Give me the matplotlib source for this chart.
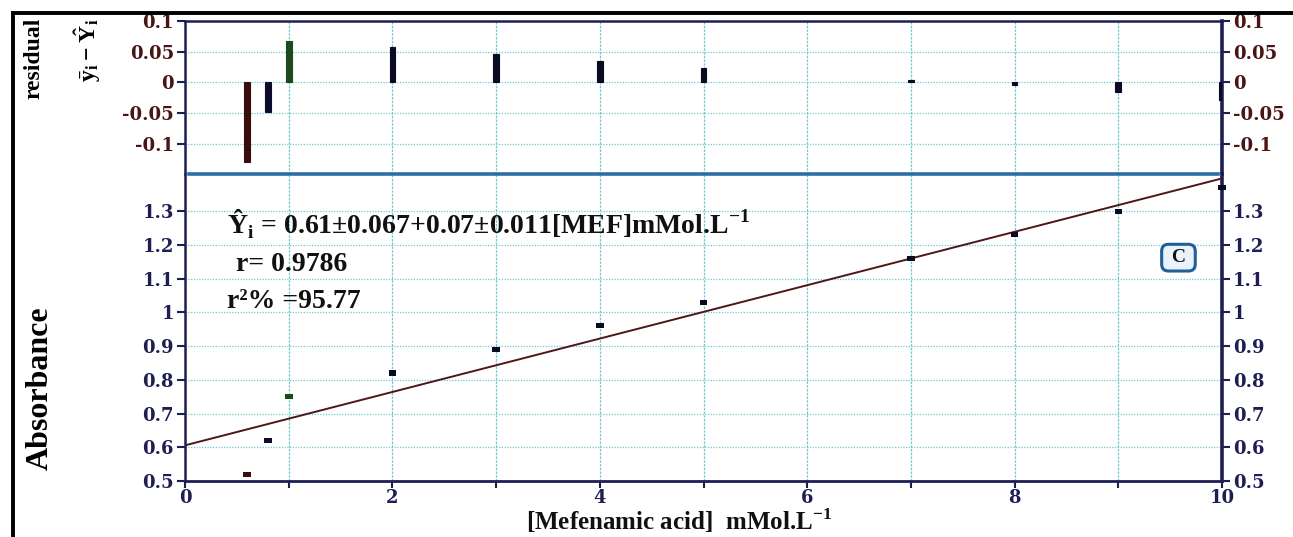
import matplotlib
matplotlib.use("Agg")
import matplotlib.pyplot as plt
import numpy as np
from matplotlib.lines import Line2D

plt.rcParams['axes.unicode_minus'] = False

# calibration data: [MEF] (mMol/L) vs absorbance
conc = np.array([0.6, 0.8, 1.0, 2.0, 3.0, 4.0, 5.0, 7.0, 8.0, 9.0, 10.0])
absorbance = np.array([0.52, 0.62, 0.75, 0.82, 0.89, 0.96, 1.03, 1.16, 1.23, 1.30, 1.37])
# residuals y_i - Y^_i
residual = np.array([-0.130, -0.048, 0.067, 0.057, 0.046, 0.035, 0.024, 0.004, -0.005, -0.016, -0.028])
point_colors = ['#3a0c0c', '#0c0c2e', '#1c4a1c'] + ['#0a0a22'] * 8

res_ticks = [-0.1, -0.05, 0, 0.05, 0.1]
res_labels = ['-0.1', '-0.05', '0', '0.05', '0.1']
abs_ticks = [0.5, 0.6, 0.7, 0.8, 0.9, 1.0, 1.1, 1.2, 1.3]
abs_labels = ['0.5', '0.6', '0.7', '0.8', '0.9', '1', '1.1', '1.2', '1.3']
x_major = [0, 2, 4, 6, 8, 10]
x_minor = [1, 3, 5, 7, 9]

eq_text = (r'Ŷ$_\mathregular{i}$ = 0.61±0.067+0.07±0.011[MEF]mMol.L$^\mathregular{-1}$')
r_text = 'r= 0.9786'
r2_text = 'r²% =95.77'

navy = '#1e1e55'
maroon = '#4a1414'
grid_c = '#6fcccc'
serif_b = dict(family='Liberation Serif', weight='bold')
tick_font = dict(family='DejaVu Serif', weight='bold', size=13)

# least squares line through the calibration points
slope, intercept = np.polyfit(conc, absorbance, 1)

fig = plt.figure(figsize=(12.93, 5.37), dpi=100)
ax_top = fig.add_axes([0.1431, 0.676, 0.802, 0.285])
ax_bot = fig.add_axes([0.1431, 0.1043, 0.802, 0.5717])

for ax in (ax_top, ax_bot):
    ax.set_xlim(0, 10)
    ax.set_xticks(x_major)
    ax.set_xticks(x_minor, minor=True)
    ax.grid(True, which='both', axis='x', color=grid_c, lw=0.9, ls=(0, (2, 1)))
    ax.grid(True, which='major', axis='y', color=grid_c, lw=0.9, ls=(0, (1, 1.2)))
    ax.set_axisbelow(True)
    for side in ('left', 'right'):
        ax.spines[side].set_color(navy)
    ax.spines['left'].set_linewidth(1.8)
    ax.spines['right'].set_linewidth(2.6)
    ax.tick_params(axis='y', direction='out', length=6, width=1.5, color=navy,
                   left=True, right=True, labelleft=True, labelright=True, pad=2)

# residual panel
ax_top.bar(conc, residual, width=0.055, color=point_colors,
           edgecolor=point_colors, lw=0.8, zorder=3)
ax_top.set_ylim(-0.149, 0.1)
ax_top.set_yticks(res_ticks)
ax_top.set_yticklabels(res_labels, **tick_font)
ax_top.tick_params(axis='y', labelcolor=maroon)
ax_top.spines['bottom'].set_visible(False)
ax_top.spines['top'].set_color(navy)
ax_top.spines['top'].set_linewidth(1.8)
ax_top.tick_params(axis='x', which='both', bottom=False, labelbottom=False)

# calibration panel
ax_bot.plot([0, 10], [intercept, intercept + slope * 10], color='#4e1616', lw=1.4, zorder=3)
rect = [(-1.5, -1), (1.5, -1), (1.5, 1), (-1.5, 1), (-1.5, -1)]
ax_bot.scatter(conc, absorbance, marker=rect, s=30, c=point_colors, lw=0, zorder=4,
               clip_on=False)
ax_bot.set_ylim(0.5, 1.41)
ax_bot.set_yticks(abs_ticks)
ax_bot.set_yticklabels(abs_labels, **tick_font)
ax_bot.tick_params(axis='y', labelcolor=navy)
ax_bot.spines['top'].set_visible(False)
ax_bot.spines['bottom'].set_color(navy)
ax_bot.spines['bottom'].set_linewidth(2.0)
ax_bot.set_xticklabels([str(v) for v in x_major], color=navy, **tick_font)
ax_bot.tick_params(axis='x', which='both', direction='out', length=5, width=1.5,
                   color=navy, pad=1)
ax_bot.plot([0.004, 0.996], [1, 1], transform=ax_bot.transAxes, color='#2e6da4',
            lw=2.6, clip_on=False, zorder=5)

ax_bot.text(0.405, 1.233, eq_text, fontsize=20, va='baseline', ha='left', color='#111111', **serif_b)
ax_bot.text(0.49, 1.123, r_text, fontsize=20, va='baseline', ha='left', color='#111111', **serif_b)
ax_bot.text(0.405, 1.0125, r2_text, fontsize=20, va='baseline', ha='left', color='#111111', **serif_b)
ax_bot.text(9.58, 1.162, ' C ', fontsize=14, ha='center', va='center', color='#111111',
            bbox=dict(boxstyle='round,pad=0.25,rounding_size=0.35', fc='#eaf2fb',
                      ec='#1f5f9a', lw=2.2), **serif_b)

# axis titles
fig.text(0.026, 1 - 58 / 537, 'residual', rotation=90, ha='center', va='center',
         fontsize=17, **serif_b)
fig.text(88 / 1293, 1 - 50 / 537, r'$\mathregular{\bar{y}_i - \hat{Y}_i}$', rotation=90,
         ha='center', va='center', fontsize=17, **serif_b)
fig.text(0.031, 1 - 388 / 537, 'Absorbance', rotation=90, ha='center', va='center',
         fontsize=23, **serif_b)
fig.text(679 / 1293, 1 - 521 / 537, r'[Mefenamic acid]  mMol.L$^\mathregular{-1}$',
         ha='center', va='center', fontsize=18, color='#111111', **serif_b)

# outer frame (left and top edges)
fig.add_artist(Line2D([13 / 1293, 13 / 1293], [0, 1 - 13 / 537], color='black', lw=2.8,
                      transform=fig.transFigure))
fig.add_artist(Line2D([13 / 1293, 1], [1 - 13 / 537, 1 - 13 / 537], color='black', lw=2.8,
                      transform=fig.transFigure))

fig.savefig('out.png', dpi=100)
